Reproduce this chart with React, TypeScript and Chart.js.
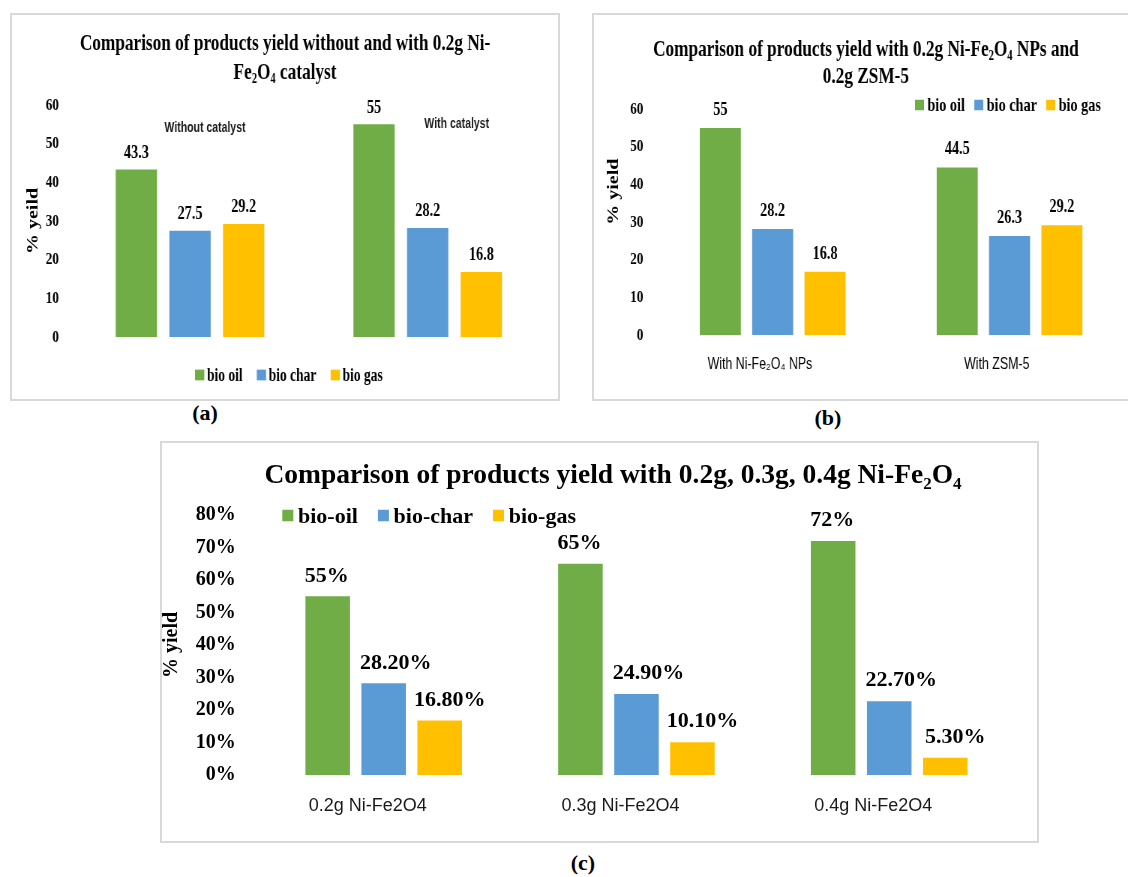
import React, { useEffect, useRef } from 'react';
import { Chart, registerables } from 'chart.js';

Chart.register(...registerables);

// ---------- data ----------
const SERIES_AB = ['bio oil', 'bio char', 'bio gas'];
const SERIES_C = ['bio-oil', 'bio-char', 'bio-gas'];
const COLORS = ['#70AD47', '#5B9BD5', '#FFC000'];

const A_TITLE = ['Comparison of products yield without and with 0.2g Ni-', 'Fe₂O₄ catalyst'];
const A_Y_TITLE = '% yeild';
const A_CATEGORIES = ['Without catalyst', 'With catalyst'];
const A_BIO_OIL = [43.3, 55];
const A_BIO_CHAR = [27.5, 28.2];
const A_BIO_GAS = [29.2, 16.8];
const A_Y_MAX = 60;
const A_Y_STEP = 10;

const B_TITLE = ['Comparison of products yield with 0.2g Ni-Fe₂O₄ NPs and', '0.2g ZSM-5'];
const B_Y_TITLE = '% yield';
const B_CATEGORIES = ['With Ni-Fe₂O₄ NPs', 'With ZSM-5'];
const B_BIO_OIL = [55, 44.5];
const B_BIO_CHAR = [28.2, 26.3];
const B_BIO_GAS = [16.8, 29.2];
const B_Y_MAX = 60;
const B_Y_STEP = 10;

const C_TITLE = ['Comparison of products yield with 0.2g, 0.3g, 0.4g Ni-Fe₂O₄'];
const C_Y_TITLE = '% yield';
const C_CATEGORIES = ['0.2g Ni-Fe2O4', '0.3g Ni-Fe2O4', '0.4g Ni-Fe2O4'];
const C_BIO_OIL = [55, 65, 72];
const C_BIO_CHAR = [28.2, 24.9, 22.7];
const C_BIO_GAS = [16.8, 10.1, 5.3];
const C_Y_MAX = 80;
const C_Y_STEP = 10;

// ---------- helpers ----------
const SERIF = '"Liberation Serif", "Times New Roman", serif';
const SANS = '"Liberation Sans", Arial, sans-serif';
const SUBS = '₀₁₂₃₄₅₆₇₈₉';

function drawRich(
  ctx: CanvasRenderingContext2D,
  text: string,
  x: number,
  cy: number,
  size: number,
  family: string,
  weight: string,
  align: 'left' | 'center' | 'right',
  color: string
): number {
  const runs: { t: string; sub: boolean; w: number }[] = [];
  for (const ch of text) {
    const i = SUBS.indexOf(ch);
    const sub = i >= 0;
    const c = sub ? String(i) : ch;
    const last = runs[runs.length - 1];
    if (last && last.sub === sub) last.t += c;
    else runs.push({ t: c, sub, w: 0 });
  }
  const font = (sub: boolean) => `${weight} ${sub ? Math.round(size * 0.62) : size}px ${family}`;
  let total = 0;
  runs.forEach((r) => {
    ctx.font = font(r.sub);
    r.w = ctx.measureText(r.t).width;
    total += r.w;
  });
  let cx = align === 'center' ? x - total / 2 : align === 'right' ? x - total : x;
  const base = cy + size * 0.33;
  ctx.fillStyle = color;
  ctx.textAlign = 'left';
  ctx.textBaseline = 'alphabetic';
  runs.forEach((r) => {
    ctx.font = font(r.sub);
    ctx.fillText(r.t, cx, base + (r.sub ? size * 0.2 : 0));
    cx += r.w;
  });
  return total;
}

type Decor = {
  titleLines: string[];
  titleX: number;
  titleY: number[];
  titleSize: number;
  yTitle?: { text: string; x: number; y: number; size: number };
  legend: { x: number; y: number; size: number; boxW: number; boxH: number; gapText: number; gapItem: number };
  valueSize: number;
  valueGap: number;
  valueDx: number[];
  format: (v: number) => string;
  notes?: { labels: string[]; dx: number[]; y: number[]; size: number };
};

function makeDecor(cfg: Decor) {
  return {
    id: 'decor',
    afterDraw(chart: any) {
      const ctx: CanvasRenderingContext2D = chart.ctx;
      ctx.save();
      cfg.titleLines.forEach((line, i) =>
        drawRich(ctx, line, cfg.titleX, cfg.titleY[i], cfg.titleSize, SERIF, 'bold', 'center', '#000')
      );
      if (cfg.yTitle) {
        ctx.save();
        ctx.translate(cfg.yTitle.x, cfg.yTitle.y);
        ctx.rotate(-Math.PI / 2);
        drawRich(ctx, cfg.yTitle.text, 0, 0, cfg.yTitle.size, SERIF, 'bold', 'center', '#000');
        ctx.restore();
      }
      const lg = cfg.legend;
      let x = lg.x;
      chart.data.datasets.forEach((ds: any) => {
        ctx.fillStyle = ds.backgroundColor;
        ctx.fillRect(x, lg.y - lg.boxH / 2, lg.boxW, lg.boxH);
        x += lg.boxW + lg.gapText;
        const w = drawRich(ctx, ds.label, x, lg.y, lg.size, SERIF, 'bold', 'left', '#000');
        x += w + lg.gapItem;
      });
      chart.data.datasets.forEach((ds: any, i: number) => {
        const meta = chart.getDatasetMeta(i);
        meta.data.forEach((el: any, j: number) => {
          const v = ds.data[j] as number;
          drawRich(ctx, cfg.format(v), el.x + cfg.valueDx[i], el.y - cfg.valueGap, cfg.valueSize, SERIF, 'bold', 'center', '#000');
        });
      });
      if (cfg.notes) {
        const xs = chart.scales.x;
        cfg.notes.labels.forEach((t, i) =>
          drawRich(ctx, t, xs.getPixelForValue(i) + cfg.notes!.dx[i], cfg.notes!.y[i], cfg.notes!.size, SANS, 'bold', 'center', '#1a1a1a')
        );
      }
      ctx.restore();
    },
  };
}

function makeDatasets(labels: string[], values: number[][], cat: number, bar: number) {
  return values.map((d, i) => ({
    label: labels[i],
    data: d,
    backgroundColor: COLORS[i],
    borderWidth: 0,
    categoryPercentage: cat,
    barPercentage: bar,
  }));
}

const baseOptions = (padding: any) => ({
  responsive: false,
  animation: false as const,
  events: [] as any[],
  devicePixelRatio: 1,
  layout: { padding },
  plugins: { legend: { display: false }, title: { display: false }, tooltip: { enabled: false } },
});

// ---------- chart configs ----------
function configA(): any {
  return {
    type: 'bar',
    data: {
      labels: A_CATEGORIES,
      datasets: makeDatasets(SERIES_AB, [A_BIO_OIL, A_BIO_CHAR, A_BIO_GAS], 0.677, 0.77),
    },
    options: {
      ...baseOptions({ top: 90, left: 18.4, right: 15.3, bottom: 62 }),
      scales: {
        x: { display: false },
        y: {
          min: 0,
          max: A_Y_MAX,
          ticks: { stepSize: A_Y_STEP, padding: 16.3, color: '#000', font: { family: SERIF, size: 17.5, weight: 'bold' } },
          grid: { display: false, drawTicks: false },
          border: { display: false },
          title: { display: true, text: A_Y_TITLE, color: '#000', padding: { top: 0, bottom: 0 }, font: { family: SERIF, size: 20, weight: 'bold', lineHeight: 1 } },
          afterFit: (s: any) => { s.width = 60.5; },
        },
      },
    },
    plugins: [
      makeDecor({
        titleLines: A_TITLE,
        titleX: 364,
        titleY: [27, 56],
        titleSize: 23,
        legend: { x: 244, y: 360, size: 18, boxW: 12.4, boxH: 10.7, gapText: 3.5, gapItem: 19 },
        valueSize: 19,
        valueGap: 18,
        valueDx: [0, 0, 0],
        format: (v) => String(v),
        notes: { labels: A_CATEGORIES, dx: [20, 38.7], y: [112.3, 108.3], size: 14 },
      }),
    ],
  };
}

function configB(): any {
  return {
    type: 'bar',
    data: {
      labels: B_CATEGORIES,
      datasets: makeDatasets(SERIES_AB, [B_BIO_OIL, B_BIO_CHAR, B_BIO_GAS], 0.663, 0.784),
    },
    options: {
      ...baseOptions({ top: 94.3, left: 0, right: 0, bottom: 0 }),
      scales: {
        x: {
          ticks: { padding: 19.4, labelOffset: -17, color: '#000', font: { family: SANS, size: 16.5 } },
          grid: { display: false, drawTicks: false },
          border: { display: false },
          afterFit: (s: any) => { s.height = 64; },
        },
        y: {
          min: 0,
          max: B_Y_MAX,
          ticks: { stepSize: B_Y_STEP, padding: 14.5, color: '#000', font: { family: SERIF, size: 17.5, weight: 'bold' } },
          grid: { display: false, drawTicks: false },
          border: { display: false },
          afterFit: (s: any) => { s.width = 80.3; },
        },
      },
    },
    plugins: [
      makeDecor({
        titleLines: B_TITLE,
        titleX: 362.5,
        titleY: [33.3, 60],
        titleSize: 23,
        yTitle: { text: B_Y_TITLE, x: 25.7, y: 176.7, size: 20 },
        legend: { x: 428, y: 90, size: 19, boxW: 12, boxH: 10.5, gapText: 4.5, gapItem: 12.4 },
        valueSize: 19,
        valueGap: 19.5,
        valueDx: [0, 0, 0],
        format: (v) => String(v),
      }),
    ],
  };
}

function configC(): any {
  return {
    type: 'bar',
    data: {
      labels: C_CATEGORIES,
      datasets: makeDatasets(SERIES_C, [C_BIO_OIL, C_BIO_CHAR, C_BIO_GAS], 0.665, 0.795),
    },
    options: {
      ...baseOptions({ top: 72, left: 0, right: 21.4, bottom: 0 }),
      scales: {
        x: {
          ticks: { padding: 20.2, labelOffset: -16, color: '#1a1a1a', font: { family: SANS, size: 18 } },
          grid: { display: false, drawTicks: false },
          border: { display: false },
          afterFit: (s: any) => { s.height = 66; },
        },
        y: {
          min: 0,
          max: C_Y_MAX,
          ticks: {
            stepSize: C_Y_STEP,
            padding: 21.6,
            color: '#000',
            font: { family: SERIF, size: 20, weight: 'bold' },
            callback: (v: any) => `${v}%`,
          },
          grid: { display: false, drawTicks: false },
          border: { display: false },
          title: { display: true, text: C_Y_TITLE, color: '#000', padding: { top: 0, bottom: 0 }, font: { family: SERIF, size: 20, weight: 'bold', lineHeight: 1 } },
          afterFit: (s: any) => { s.width = 95.3; },
        },
      },
    },
    plugins: [
      makeDecor({
        titleLines: C_TITLE,
        titleX: 451,
        titleY: [31],
        titleSize: 27.5,
        legend: { x: 120.3, y: 72.5, size: 22, boxW: 11, boxH: 11.5, gapText: 4.7, gapItem: 20 },
        valueSize: 22,
        valueGap: 22,
        valueDx: [-1, 12, 10],
        format: (v) => (Number.isInteger(v) ? `${v}%` : `${v.toFixed(2)}%`),
      }),
    ],
  };
}

// ---------- components ----------
type PanelProps = {
  left: number;
  top: number;
  width: number;
  height: number;
  k: number;
  noRight?: boolean;
  build: () => any;
};

function Panel({ left, top, width, height, k, noRight, build }: PanelProps) {
  const ref = useRef<HTMLCanvasElement>(null);
  useEffect(() => {
    const chart = new Chart(ref.current as HTMLCanvasElement, build());
    return () => chart.destroy();
  }, []);
  const innerW = width - (noRight ? 2 : 4);
  const innerH = height - 4;
  return (
    <div
      style={{
        position: 'absolute',
        left,
        top,
        width,
        height,
        boxSizing: 'border-box',
        border: '2px solid #d9d9d9',
        borderRight: noRight ? 'none' : '2px solid #d9d9d9',
        overflow: 'hidden',
        background: '#fff',
      }}
    >
      <canvas
        ref={ref}
        width={Math.round(innerW / k)}
        height={innerH}
        style={{ position: 'absolute', left: 0, top: 0, transform: `scaleX(${k})`, transformOrigin: '0 0' }}
      />
    </div>
  );
}

function Caption({ text, cx, cy }: { text: string; cx: number; cy: number }) {
  return (
    <div
      style={{
        position: 'absolute',
        left: cx - 30,
        top: cy - 13,
        width: 60,
        height: 26,
        lineHeight: '26px',
        textAlign: 'center',
        fontFamily: SERIF,
        fontWeight: 'bold',
        fontSize: 22,
        color: '#000',
      }}
    >
      {text}
    </div>
  );
}

export default function App() {
  return (
    <div style={{ position: 'relative', width: 1128, height: 877, overflow: 'hidden' }}>
      <div style={{ position: 'fixed', left: 0, top: 0, width: 1128, height: 877, background: '#fff' }}>
        <Panel left={10} top={13} width={550} height={388} k={0.75} build={configA} />
        <Panel left={592} top={13} width={536} height={388} k={0.75} noRight build={configB} />
        <Panel left={160} top={441} width={879} height={402} k={1} build={configC} />
        <Caption text="(a)" cx={205} cy={413} />
        <Caption text="(b)" cx={828} cy={418} />
        <Caption text="(c)" cx={583} cy={863} />
      </div>
    </div>
  );
}
